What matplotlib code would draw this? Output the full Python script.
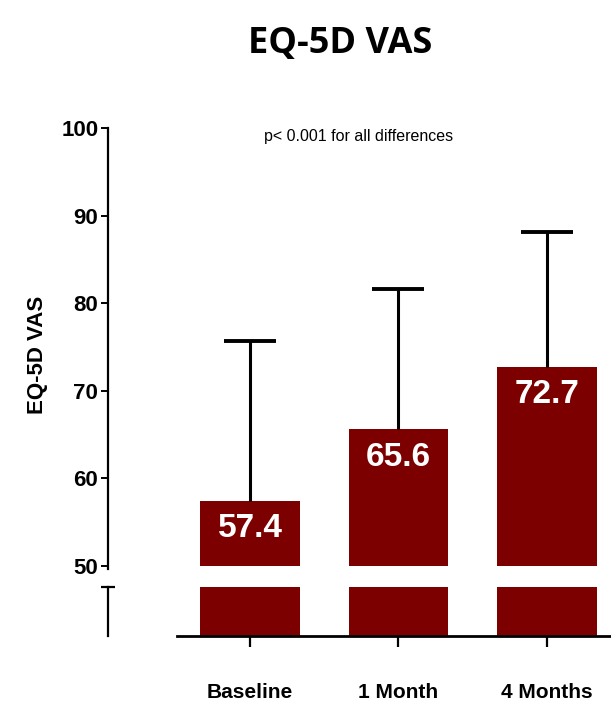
import numpy as np
import matplotlib
matplotlib.use("Agg")
import matplotlib.pyplot as plt

categories = ["Baseline", "1 Month", "4 Months"]
means = [57.4, 65.6, 72.7]
upper = [75.7, 81.6, 88.1]
yticks = [50, 60, 70, 80, 90, 100]

bar_color = "#7d0000"
plt.rcParams["font.family"] = ["Liberation Sans", "DejaVu Sans"]

fig = plt.figure(figsize=(6.11, 7.06), dpi=100)
W, H = 611, 706

def box(x0, y0, x1, y1):
    # pixel box (top-left origin) -> figure fraction rect
    return [x0 / W, 1 - y1 / H, (x1 - x0) / W, (y1 - y0) / H]

xlim = (-0.956, 2.431)
x = np.arange(len(categories))
width = 0.673

# upper part (50-100)
ax = fig.add_axes(box(108, 128, 611, 566))
ax.bar(x, means, width=width, color=bar_color, bottom=0)
err = [np.zeros(3), np.array(upper) - np.array(means)]
eb = ax.errorbar(x, means, yerr=err, fmt="none", ecolor="black", elinewidth=2.2,
                 capsize=19, capthick=2.8)
eb[1][0].set_visible(False)  # no lower cap
ax.set_xlim(*xlim)
ax.set_ylim(50, 100)
ax.set_yticks(yticks)
ax.set_xticks([])
for s in ["top", "right", "bottom"]:
    ax.spines[s].set_visible(False)
ax.spines["left"].set_linewidth(1.6)
ax.spines["left"].set_bounds(49.7, 100)
ax.tick_params(axis="y", length=5, width=1.4, pad=2, labelsize=16)
for lab in ax.get_yticklabels():
    lab.set_fontweight("bold")

for xi, m in zip(x, means):
    ax.annotate(f"{m}", (xi, m), xytext=(0, -20), textcoords="offset points",
                ha="center", va="center", color="white", fontsize=24,
                fontweight="bold")

ax.text(0.734, 99, "p< 0.001 for all differences", ha="center", va="center",
        fontsize=11.5)

# lower segment below the break
ax2 = fig.add_axes(box(108, 587, 611, 636))
ax2.bar(x, [1.5] * 3, width=width, color=bar_color)
ax2.set_xlim(*xlim)
ax2.set_ylim(0, 1)
ax2.set_yticks([1])
ax2.set_yticklabels([])
ax2.tick_params(axis="y", direction="inout", length=10, width=1.6)
for s in ["top", "right"]:
    ax2.spines[s].set_visible(False)
ax2.spines["left"].set_linewidth(1.6)
ax2.spines["bottom"].set_linewidth(2.0)
ax2.spines["bottom"].set_bounds(-0.49, xlim[1])
ax2.set_xticks(x)
ax2.set_xticklabels(categories, fontsize=15, fontweight="bold")
ax2.tick_params(axis="x", length=8, width=1.6, pad=26)

fig.text(38 / W, 1 - 355 / H, "EQ-5D VAS", rotation=90, ha="center",
         va="center", fontsize=16, fontweight="bold")
fig.text(340 / W, 1 - 44 / H, "EQ-5D VAS", ha="center", va="center",
         fontsize=26, fontweight="bold", family=["Open Sans", "DejaVu Sans"])

fig.savefig("out.png", dpi=100)
